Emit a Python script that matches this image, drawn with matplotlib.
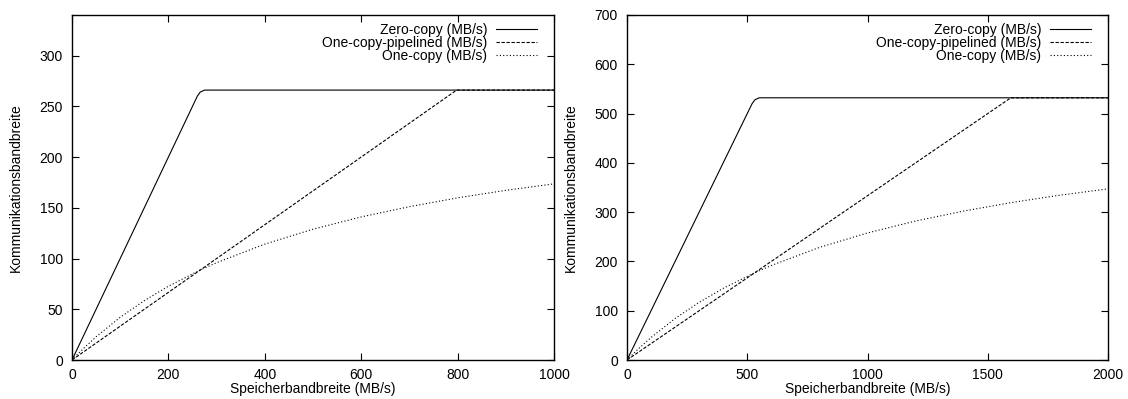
import matplotlib
matplotlib.use("Agg")
import matplotlib.pyplot as plt

plt.rcParams['font.family'] = ['Liberation Sans', 'DejaVu Sans']

# Left panel data (memory bandwidth up to 1000 MB/s, bus 266 MB/s)
zero_x_l = [0, 260, 266, 275, 1000]
zero_y_l = [0, 260, 264, 266, 266]
pipe_x_l = [0, 798, 1000]
pipe_y_l = [0, 266, 266]
one_x_l = [0, 10, 25, 50, 100, 150, 200, 266, 300, 400, 500, 600, 700, 800, 900, 1000]
one_y_l = [0, 4.9, 11.9, 22.9, 42.1, 58.5, 72.7, 88.7, 95.9, 114.2, 128.9, 141.0, 151.1, 159.8, 167.2, 173.6]

# Right panel data (memory bandwidth up to 2000 MB/s, bus 532 MB/s)
zero_x_r = [0, 520, 532, 550, 2000]
zero_y_r = [0, 520, 528, 532, 532]
pipe_x_r = [0, 1596, 2000]
pipe_y_r = [0, 532, 532]
one_x_r = [0, 20, 50, 100, 200, 300, 400, 532, 600, 800, 1000, 1200, 1400, 1600, 1800, 2000]
one_y_r = [0, 9.8, 23.8, 45.7, 84.2, 117.0, 145.4, 177.3, 191.8, 228.4, 257.8, 282.0, 302.2, 319.6, 334.4, 347.2]

labels = ['Zero-copy (MB/s)', 'One-copy-pipelined (MB/s)', 'One-copy (MB/s)']
xlabel = 'Speicherbandbreite (MB/s)'
ylabel = 'Kommunikationsbandbreite'

fig = plt.figure(figsize=(11.28, 3.99), dpi=100)
axL = fig.add_axes([72/1128, 39/399, (554-72)/1128, 345/399])
axR = fig.add_axes([627/1128, 39/399, (1108-627)/1128, 345/399])

FS = 10

def draw(ax, zx, zy, px, py, ox, oy, xlim, ylim, xticks, yticks):
    lw = 0.8
    ax.plot(zx, zy, color='black', lw=lw, ls='-', label=labels[0])
    ax.plot(px, py, color='black', lw=lw, ls=(0, (3, 1.5)), label=labels[1])
    ax.plot(ox, oy, color='black', lw=lw, ls=(0, (1, 2)), label=labels[2])
    ax.set_xlim(*xlim)
    ax.set_ylim(*ylim)
    ax.set_xticks(xticks)
    ax.set_yticks(yticks)
    ax.tick_params(direction='in', top=True, right=True, length=5, width=0.8,
                   labelsize=FS)
    ax.tick_params(axis='x', pad=6)
    ax.tick_params(axis='y', pad=6.5)
    for s in ax.spines.values():
        s.set_linewidth(1.0)
    ax.set_xlabel(xlabel, fontsize=FS, labelpad=0)
    ax.set_ylabel(ylabel, fontsize=FS, labelpad=12)
    ax.legend(loc='upper right', bbox_to_anchor=(0.981, 1.0), frameon=False,
              markerfirst=False, alignment='right',
              fontsize=FS, handlelength=2.9, handletextpad=0.65, labelspacing=-0.08,
              borderaxespad=0.3, borderpad=0.3)

draw(axL, zero_x_l, zero_y_l, pipe_x_l, pipe_y_l, one_x_l, one_y_l,
     (0, 1000), (0, 340), [0, 200, 400, 600, 800, 1000], [0, 50, 100, 150, 200, 250, 300])
draw(axR, zero_x_r, zero_y_r, pipe_x_r, pipe_y_r, one_x_r, one_y_r,
     (0, 2000), (0, 700), [0, 500, 1000, 1500, 2000], [0, 100, 200, 300, 400, 500, 600, 700])

fig.savefig('out.png', dpi=100)
